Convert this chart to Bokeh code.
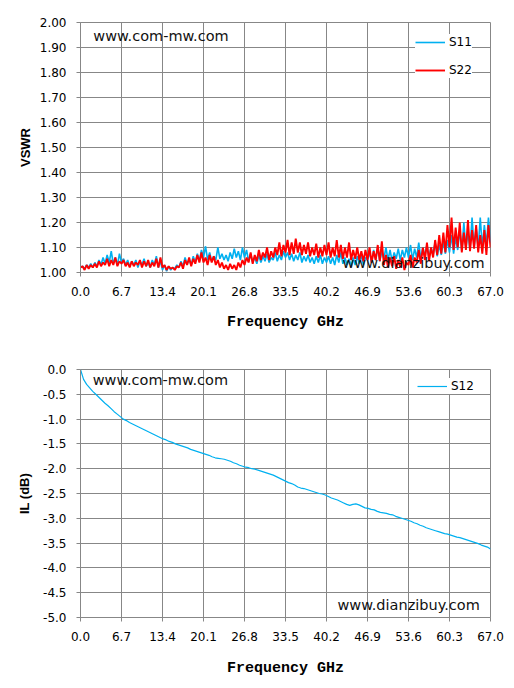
import numpy as np
from bokeh.plotting import figure
from bokeh.layouts import column
from bokeh.models import (FixedTicker, NumeralTickFormatter, Legend, LegendItem,
                          Label, Range1d)
from bokeh.embed import file_html
from bokeh.resources import INLINE

# ---------------- data ----------------
F_START, F_STOP = 0.0, 67.0

x_ticks = [0.0, 6.7, 13.4, 20.1, 26.8, 33.5, 40.2, 46.9, 53.6, 60.3, 67.0]
vswr_ticks = [1.0, 1.1, 1.2, 1.3, 1.4, 1.5, 1.6, 1.7, 1.8, 1.9, 2.0]
il_ticks = [0.0, -0.5, -1.0, -1.5, -2.0, -2.5, -3.0, -3.5, -4.0, -4.5, -5.0]

s11 = [
    1.02, 1.025, 1.015, 1.03, 1.02, 1.035, 1.02, 1.04, 1.025, 1.05, 1.03, 1.06, 1.035, 1.07, 1.04, 1.085, 1.035, 1.06, 1.03, 1.075,
    1.04, 1.055, 1.03, 1.05, 1.025, 1.045, 1.03, 1.05, 1.02, 1.045, 1.03, 1.055, 1.025, 1.04, 1.02, 1.05, 1.03, 1.065, 1.02, 1.045,
    1.01, 1.03, 1.005, 1.025, 1.01, 1.02, 1.015, 1.03, 1.02, 1.045, 1.025, 1.06, 1.035, 1.05, 1.03, 1.065, 1.04, 1.075, 1.045, 1.09,
    1.06, 1.105, 1.05, 1.08, 1.045, 1.065, 1.05, 1.10, 1.055, 1.075, 1.05, 1.07, 1.045, 1.08, 1.055, 1.095, 1.06, 1.085, 1.05, 1.10,
    1.06, 1.09, 1.045, 1.075, 1.04, 1.06, 1.035, 1.07, 1.04, 1.065, 1.045, 1.075, 1.04, 1.06, 1.05, 1.08, 1.045, 1.07, 1.05, 1.085,
    1.06, 1.08, 1.05, 1.075, 1.045, 1.07, 1.05, 1.08, 1.04, 1.065, 1.045, 1.07, 1.04, 1.06, 1.035, 1.065, 1.04, 1.07, 1.035, 1.06,
    1.04, 1.065, 1.035, 1.06, 1.03, 1.07, 1.04, 1.08, 1.035, 1.06, 1.03, 1.055, 1.025, 1.06, 1.03, 1.065, 1.035, 1.07, 1.03, 1.06,
    1.05, 1.08, 1.04, 1.09, 1.05, 1.10, 1.045, 1.085, 1.055, 1.10, 1.05, 1.09, 1.045, 1.08, 1.055, 1.095, 1.05, 1.09, 1.06, 1.10,
    1.06, 1.11, 1.05, 1.095, 1.06, 1.12, 1.055, 1.10, 1.065, 1.11, 1.06, 1.10, 1.07, 1.12, 1.065, 1.11, 1.07, 1.125, 1.075, 1.13,
    1.08, 1.15, 1.075, 1.14, 1.09, 1.17, 1.085, 1.20, 1.095, 1.16, 1.09, 1.22, 1.10, 1.18, 1.095, 1.22, 1.10, 1.19, 1.11, 1.22, 1.12,
]

s22 = [
    1.02, 1.025, 1.01, 1.03, 1.015, 1.03, 1.02, 1.035, 1.02, 1.045, 1.025, 1.04, 1.03, 1.055, 1.025, 1.05, 1.03, 1.06, 1.025, 1.045,
    1.035, 1.05, 1.025, 1.04, 1.02, 1.045, 1.025, 1.04, 1.03, 1.05, 1.02, 1.045, 1.025, 1.05, 1.02, 1.04, 1.025, 1.055, 1.02, 1.06,
    1.02, 1.03, 1.01, 1.025, 1.015, 1.02, 1.01, 1.025, 1.02, 1.04, 1.015, 1.05, 1.03, 1.06, 1.025, 1.055, 1.035, 1.07, 1.04, 1.08,
    1.04, 1.06, 1.03, 1.07, 1.04, 1.065, 1.03, 1.05, 1.02, 1.04, 1.015, 1.03, 1.01, 1.035, 1.015, 1.03, 1.01, 1.04, 1.02, 1.05,
    1.03, 1.06, 1.04, 1.08, 1.035, 1.07, 1.045, 1.09, 1.05, 1.08, 1.06, 1.10, 1.05, 1.085, 1.06, 1.10, 1.07, 1.12, 1.065, 1.11,
    1.08, 1.13, 1.07, 1.12, 1.075, 1.135, 1.08, 1.12, 1.07, 1.11, 1.075, 1.12, 1.065, 1.10, 1.07, 1.115, 1.06, 1.10, 1.065, 1.11,
    1.07, 1.12, 1.06, 1.10, 1.065, 1.13, 1.06, 1.11, 1.055, 1.10, 1.06, 1.12, 1.05, 1.09, 1.055, 1.10, 1.05, 1.085, 1.045, 1.09,
    1.05, 1.10, 1.04, 1.085, 1.05, 1.11, 1.045, 1.125, 1.03, 1.07, 1.02, 1.06, 1.025, 1.065, 1.015, 1.05, 1.02, 1.06, 1.01, 1.04,
    1.03, 1.07, 1.02, 1.06, 1.04, 1.09, 1.035, 1.10, 1.05, 1.12, 1.045, 1.10, 1.06, 1.13, 1.07, 1.15, 1.075, 1.16, 1.08, 1.19,
    1.10, 1.22, 1.09, 1.18, 1.10, 1.20, 1.08, 1.16, 1.09, 1.21, 1.085, 1.17, 1.095, 1.19, 1.08, 1.15, 1.075, 1.17, 1.07, 1.19, 1.10,
]

s12 = [
    0.00, -0.20, -0.30, -0.37, -0.44, -0.50, -0.56, -0.62, -0.68, -0.73, -0.79, -0.85, -0.90, -0.95,
    -1.00, -1.03, -1.07, -1.10, -1.13, -1.16, -1.19, -1.22, -1.25, -1.28, -1.31, -1.34, -1.37, -1.40,
    -1.42, -1.45, -1.47, -1.50, -1.52, -1.54, -1.56, -1.58, -1.61, -1.63, -1.65, -1.67, -1.69, -1.71,
    -1.73, -1.76, -1.78, -1.79, -1.80, -1.81, -1.83, -1.85, -1.88, -1.90, -1.93, -1.95, -1.97, -1.98,
    -2.00, -2.01, -2.03, -2.05, -2.07, -2.09, -2.11, -2.13, -2.16, -2.19, -2.22, -2.25, -2.28, -2.30,
    -2.33, -2.37, -2.39, -2.40, -2.42, -2.44, -2.46, -2.48, -2.50, -2.51, -2.53, -2.56, -2.59, -2.61,
    -2.63, -2.66, -2.69, -2.72, -2.74, -2.72, -2.71, -2.73, -2.76, -2.79, -2.80, -2.82, -2.83, -2.86,
    -2.88, -2.89, -2.90, -2.92, -2.93, -2.96, -2.98, -3.00, -3.02, -3.04, -3.06, -3.09, -3.11, -3.14,
    -3.16, -3.19, -3.21, -3.23, -3.25, -3.27, -3.29, -3.31, -3.32, -3.34, -3.36, -3.38, -3.39, -3.41,
    -3.43, -3.45, -3.47, -3.49, -3.51, -3.54, -3.56, -3.58, -3.62,
]

freq_vswr = np.linspace(F_START, F_STOP, len(s11))
freq_vswr22 = np.linspace(F_START, F_STOP, len(s22))
freq_il = np.linspace(F_START, F_STOP, len(s12))

BLUE = "#00B0F0"
RED = "#FF0000"
GRID = "#878787"
TICK_FONT = "DejaVu Sans"


def make_fig(height, top, bottom, y_range, yticks, yfmt, ylabel, ylabel_standoff, xlabel_standoff):
    p = figure(width=506, height=height, output_backend="svg", toolbar_location=None,
               x_range=Range1d(F_START, F_STOP), y_range=y_range,
               min_border_left=80, min_border_right=16, min_border_top=top,
               min_border_bottom=bottom)
    p.background_fill_color = "white"
    p.border_fill_color = "white"
    p.outline_line_color = GRID
    p.outline_line_width = 1

    p.xaxis.ticker = FixedTicker(ticks=x_ticks)
    p.xgrid.ticker = FixedTicker(ticks=x_ticks)
    p.xaxis.formatter = NumeralTickFormatter(format="0.0")
    p.yaxis.ticker = FixedTicker(ticks=yticks)
    p.ygrid.ticker = FixedTicker(ticks=yticks)
    p.yaxis.formatter = NumeralTickFormatter(format=yfmt)

    for ax in (p.xaxis, p.yaxis):
        ax.axis_line_color = GRID
        ax.major_tick_line_color = GRID
        ax.major_tick_out = 4
        ax.major_tick_in = 0
        ax.minor_tick_line_color = None
        ax.major_label_text_font = TICK_FONT
        ax.major_label_text_font_size = "12px"
        ax.major_label_text_color = "black"
        ax.major_label_standoff = 10

    p.xaxis.axis_label = "Frequency GHz"
    p.xaxis.axis_label_text_font = "Liberation Mono"
    p.xaxis.axis_label_text_font_style = "bold"
    p.xaxis.axis_label_text_font_size = "15px"
    p.xaxis.axis_label_text_color = "black"
    p.xaxis.axis_label_standoff = xlabel_standoff

    p.yaxis.axis_label = ylabel
    p.yaxis.axis_label_text_font = "Liberation Sans"
    p.yaxis.axis_label_text_font_style = "bold"
    p.yaxis.axis_label_text_font_size = "13px"
    p.yaxis.axis_label_text_color = "black"
    p.yaxis.axis_label_standoff = ylabel_standoff

    for g in (p.xgrid, p.ygrid):
        g.grid_line_color = GRID
        g.grid_line_width = 1
        g.grid_line_alpha = 1
    return p


def watermark(p, x, y, text, size):
    p.add_layout(Label(x=x, y=y, text=text, text_font="DejaVu Sans",
                       text_font_size=size, text_color="#111111",
                       text_baseline="middle", text_align="left"))


def legend(p, items, loc, padding):
    lg = Legend(items=items, location=loc, orientation="vertical",
                glyph_width=30, glyph_height=16, label_height=16,
                label_standoff=4, spacing=12, padding=padding, margin=0,
                border_line_color=None, background_fill_color="white",
                background_fill_alpha=1.0,
                label_text_font=TICK_FONT, label_text_font_size="12px",
                label_text_color="black")
    p.add_layout(lg)


# ---------------- VSWR chart ----------------
p1 = make_fig(344, 22, 72, Range1d(1.0, 2.0), vswr_ticks, "0.00", "VSWR", 4, 15)
r11 = p1.line(freq_vswr, s11, line_color=BLUE, line_width=1.6)
r22 = p1.line(freq_vswr22, s22, line_color=RED, line_width=1.9)
watermark(p1, 2.1, 1.948, "www.com-mw.com", "14.5px")
watermark(p1, 42.8, 1.04, "www.dianzibuy.com", "14.5px")
legend(p1, [LegendItem(label="S11", renderers=[r11]),
            LegendItem(label="S22", renderers=[r22])], (335, 194), 6)

# ---------------- IL chart ----------------
p2 = make_fig(336, 25, 63, Range1d(-5.0, 0.0), il_ticks, "0.0", "IL (dB)", 8, 16)
r12 = p2.line(freq_il, s12, line_color=BLUE, line_width=1.2)
watermark(p2, 2.0, -0.22, "www.com-mw.com", "14.5px")
watermark(p2, 42.0, -4.74, "www.dianzibuy.com", "14.5px")
legend(p2, [LegendItem(label="S12", renderers=[r12])], (337, 223), 5)

layout = column(p1, p2, spacing=0)
open("out.html", "w").write(file_html(layout, INLINE))
